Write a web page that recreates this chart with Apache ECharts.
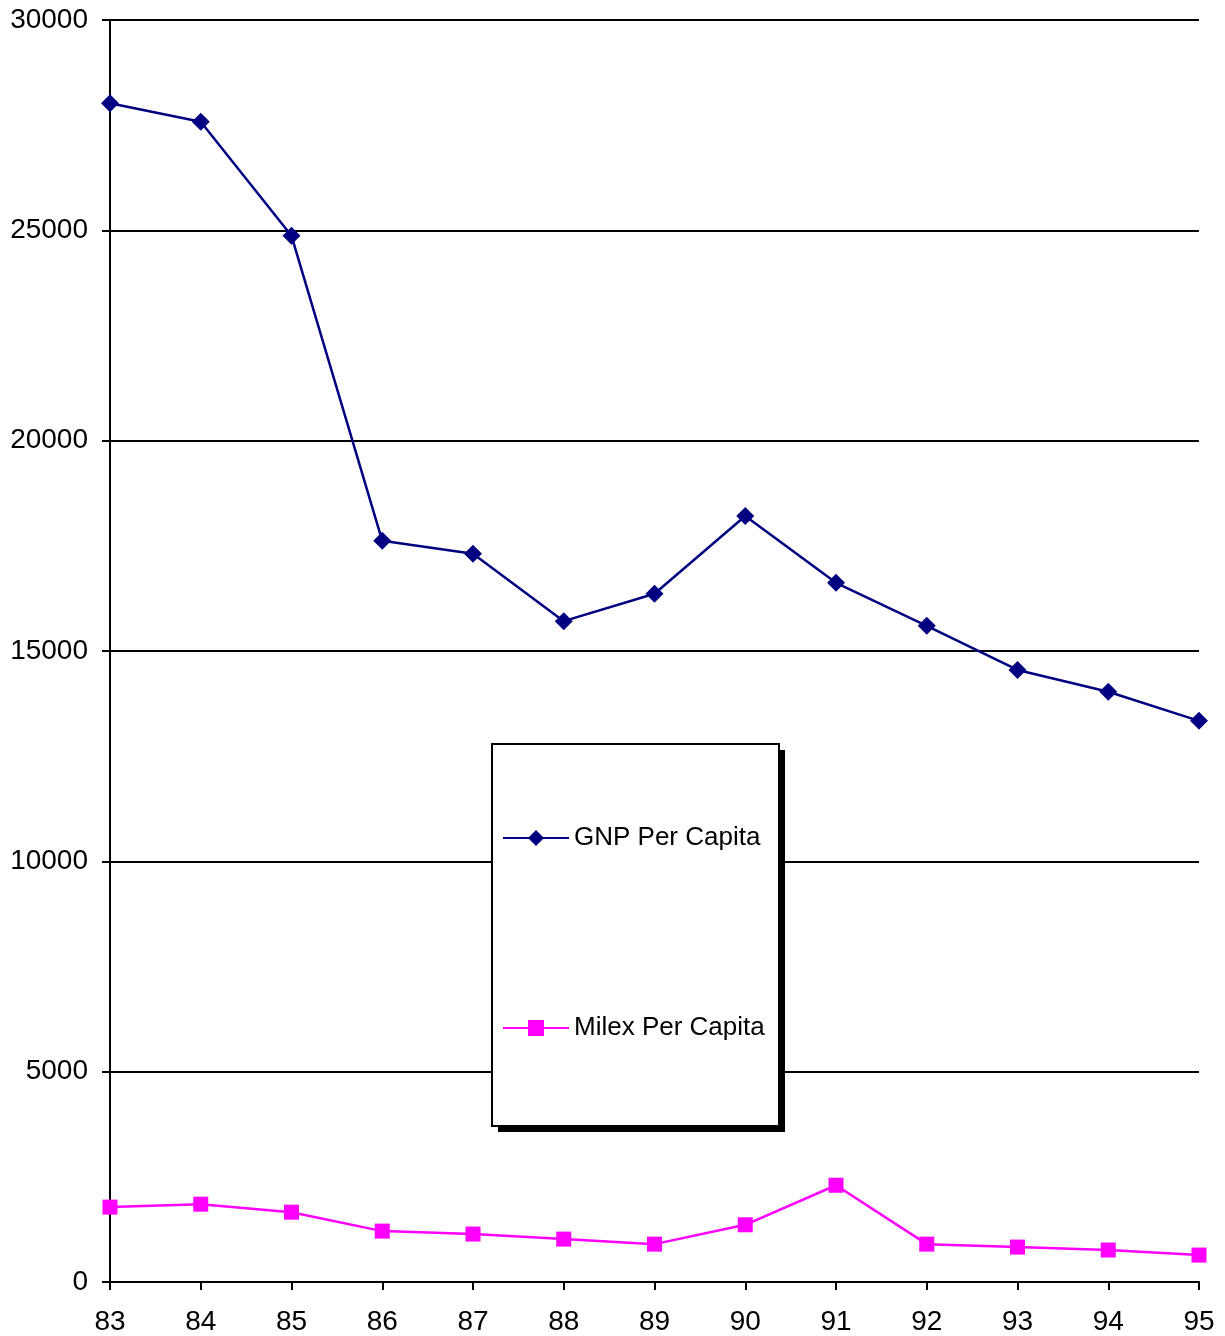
<!DOCTYPE html>
<html>
<head>
<meta charset="utf-8">
<script src="https://cdn.jsdelivr.net/npm/echarts@6/dist/echarts.min.js"></script>
<style>
  html, body { margin: 0; padding: 0; background: #fff; }
  #chart { width: 1225px; height: 1336px; }
</style>
</head>
<body>
<div id="chart"></div>
<script>
const years = ['83', '84', '85', '86', '87', '88', '89', '90', '91', '92', '93', '94', '95'];
const gnpPerCapita = [28020, 27580, 24870, 17620, 17310, 15710, 16360, 18210, 16620, 15600, 14550, 14030, 13340];
const milexPerCapita = [1780, 1850, 1660, 1210, 1140, 1020, 900, 1360, 2300, 900, 830, 760, 640];

const chart = echarts.init(document.getElementById('chart'));

// the legend frame with its hard black shadow
const legendBox = { x: 492, y: 744, w: 287, h: 382 };

const option = {
  backgroundColor: '#fff',
  animation: false,
  textStyle: { fontFamily: 'Liberation Sans, Arial, sans-serif' },
  grid: { left: 110, right: 26, top: 20, bottom: 54 },
  xAxis: {
    type: 'category',
    data: years,
    boundaryGap: false,
    axisLine: { lineStyle: { color: '#000', width: 2 } },
    axisTick: { alignWithLabel: true, length: 8, lineStyle: { color: '#000', width: 2 } },
    axisLabel: { color: '#000', fontSize: 28, margin: 26 },
    splitLine: { show: false }
  },
  yAxis: {
    type: 'value',
    min: 0,
    max: 30000,
    interval: 5000,
    axisLine: { show: true, lineStyle: { color: '#000', width: 2 } },
    axisTick: { show: true, length: 8, lineStyle: { color: '#000', width: 2 } },
    axisLabel: { color: '#000', fontSize: 28, margin: 22, formatter: (v) => String(v) },
    splitLine: { lineStyle: { color: '#000', width: 2 } }
  },
  graphic: [
    {
      type: 'rect',
      z: 3,
      shape: { x: legendBox.x + 6, y: legendBox.y + 6, width: legendBox.w, height: legendBox.h },
      style: { fill: '#000' }
    },
    {
      type: 'rect',
      z: 3,
      shape: { x: legendBox.x, y: legendBox.y, width: legendBox.w, height: legendBox.h },
      style: { fill: '#fff', stroke: '#000', lineWidth: 2 }
    }
  ],
  legend: {
    orient: 'vertical',
    left: 502,
    top: 825,
    padding: 0,
    z: 5,
    itemWidth: 66,
    itemHeight: 20,
    itemGap: 164,
    textStyle: { color: '#000', fontSize: 26, fontFamily: 'Liberation Sans, Arial, sans-serif' },
    data: ['GNP Per Capita', 'Milex Per Capita']
  },
  series: [
    {
      name: 'GNP Per Capita',
      type: 'line',
      data: gnpPerCapita,
      symbol: 'diamond',
      symbolSize: 18,
      lineStyle: { color: '#000080', width: 2.5 },
      itemStyle: { color: '#000080' }
    },
    {
      name: 'Milex Per Capita',
      type: 'line',
      data: milexPerCapita,
      symbol: 'rect',
      symbolSize: 15,
      lineStyle: { color: '#ff00ff', width: 2.5 },
      itemStyle: { color: '#ff00ff' }
    }
  ]
};

chart.setOption(option);
</script>
</body>
</html>
